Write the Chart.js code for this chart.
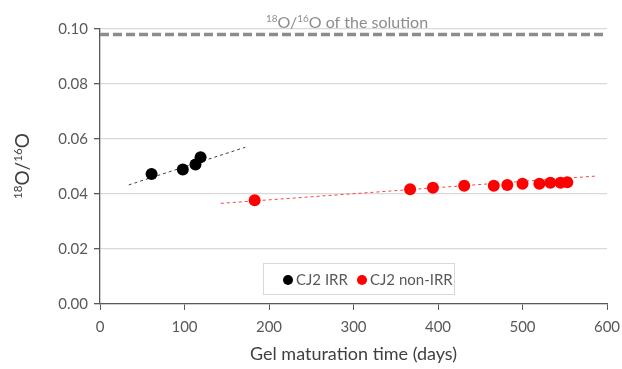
<!DOCTYPE html>
<html>
<head>
<meta charset="utf-8">
<script src="https://cdn.jsdelivr.net/npm/chart.js@4/dist/chart.umd.min.js"></script>
<style>
  html, body { margin: 0; padding: 0; background: #fff; }
  #wrap { width: 622px; height: 369px; }
</style>
</head>
<body>
<div id="wrap"><canvas id="isoChart" width="622" height="369"></canvas></div>
<script>
// datos
const irrDays = [61, 98, 113, 119];
const irrRatio = [0.0473, 0.0489, 0.0507, 0.0534];
const nonIrrDays = [183, 367, 394, 431, 466, 482, 500, 520, 533, 545, 553];
const nonIrrRatio = [0.0377, 0.0417, 0.0423, 0.0430, 0.0430, 0.0433, 0.0437, 0.0437, 0.0441, 0.0441, 0.0443];
// lineas de tendencia (extremos)
const irrTrendDays = [34, 172];
const irrTrendRatio = [0.0433, 0.0570];
const nonIrrTrendDays = [143, 586];
const nonIrrTrendRatio = [0.0366, 0.0465];
// relacion de la solucion
const solutionDays = [0, 600];
const solutionRatio = [0.098, 0.098];
const xTicks = [0, 100, 200, 300, 400, 500, 600];
const yTicks = [0, 0.02, 0.04, 0.06, 0.08, 0.10];

const FONT = 'Lato, "Open Sans", sans-serif';
const AXIS = '#595959';

const pts = (xs, ys) => xs.map((x, i) => ({ x: x, y: ys[i] }));

// texto con superindices: partes [texto, esSup]
function drawIso(ctx, parts, x, y, size, color, align) {
  ctx.save();
  ctx.fillStyle = color;
  ctx.textBaseline = 'alphabetic';
  ctx.textAlign = 'left';
  let total = 0;
  parts.forEach(p => {
    ctx.font = (p[1] ? size * 0.62 : size) + 'px ' + FONT;
    total += ctx.measureText(p[0]).width;
  });
  let cx = align === 'center' ? x - total / 2 : x;
  parts.forEach(p => {
    ctx.font = (p[1] ? size * 0.62 : size) + 'px ' + FONT;
    ctx.fillText(p[0], cx, p[1] ? y - size * 0.38 : y);
    cx += ctx.measureText(p[0]).width;
  });
  ctx.restore();
}

const extras = {
  id: 'extras',
  afterDraw(chart) {
    const ctx = chart.ctx;
    // etiqueta de la linea de la solucion
    drawIso(ctx, [['18', true], ['O/', false], ['16', true], ['O of the solution', false]],
      347, 28, 16, '#8c8c8c', 'center');
    // titulo eje y rotado
    ctx.save();
    ctx.translate(29, 166);
    ctx.rotate(-Math.PI / 2);
    drawIso(ctx, [['18', true], ['O/', false], ['16', true], ['O', false]], 0, 0, 19, '#404040', 'center');
    ctx.restore();
    // leyenda
    ctx.save();
    ctx.fillStyle = '#fff';
    ctx.fillRect(263, 263, 192, 32);
    ctx.strokeStyle = '#d9d9d9';
    ctx.lineWidth = 1;
    ctx.strokeRect(263.5, 263.5, 191, 31);
    const items = [
      { label: chart.data.datasets[0].label, color: chart.data.datasets[0].backgroundColor, x: 288 },
      { label: chart.data.datasets[1].label, color: chart.data.datasets[1].backgroundColor, x: 362 }
    ];
    ctx.font = '15px ' + FONT;
    ctx.textBaseline = 'middle';
    items.forEach(it => {
      ctx.fillStyle = it.color;
      ctx.beginPath();
      ctx.arc(it.x, 280, 5, 0, Math.PI * 2);
      ctx.fill();
      ctx.fillStyle = AXIS;
      ctx.fillText(it.label, it.x + 8, 280);
    });
    ctx.restore();
  }
};

const ctx = document.getElementById('isoChart').getContext('2d');
new Chart(ctx, {
  type: 'scatter',
  data: {
    datasets: [
      {
        label: 'CJ2 IRR',
        data: pts(irrDays, irrRatio),
        backgroundColor: '#000000',
        borderWidth: 0,
        pointRadius: 6,
        order: 1
      },
      {
        label: 'CJ2 non-IRR',
        data: pts(nonIrrDays, nonIrrRatio),
        backgroundColor: '#ff0000',
        borderWidth: 0,
        pointRadius: 6,
        order: 1
      },
      {
        label: 'trend IRR',
        data: pts(irrTrendDays, irrTrendRatio),
        showLine: true,
        borderColor: '#404040',
        borderWidth: 1,
        borderDash: [3, 3],
        pointRadius: 0,
        order: 2
      },
      {
        label: 'trend non-IRR',
        data: pts(nonIrrTrendDays, nonIrrTrendRatio),
        showLine: true,
        borderColor: '#ff4040',
        borderWidth: 1,
        borderDash: [3, 3],
        pointRadius: 0,
        order: 2
      },
      {
        label: 'solution',
        data: pts(solutionDays, solutionRatio),
        showLine: true,
        borderColor: '#8c8c8c',
        borderWidth: 3.5,
        borderDash: [9, 4],
        pointRadius: 0,
        order: 3
      }
    ]
  },
  options: {
    responsive: false,
    animation: false,
    layout: { padding: { top: 29, right: 15, left: 0, bottom: 0 } },
    plugins: {
      legend: { display: false },
      tooltip: { enabled: false }
    },
    scales: {
      x: {
        type: 'linear',
        min: 0, max: 600,
        afterBuildTicks: s => { s.ticks = xTicks.map(v => ({ value: v })); },
        afterFit: s => { s.height = 65; s.paddingLeft = 0; s.paddingRight = 0; },
        grid: { drawOnChartArea: false, tickLength: 6, tickColor: AXIS },
        border: { color: AXIS, width: 1.3 },
        ticks: { color: AXIS, font: { family: FONT, size: 15 }, padding: 8 },
        title: { display: true, text: 'Gel maturation time (days)', color: '#404040',
          font: { family: FONT, size: 18 }, padding: { top: 4, bottom: 4 } }
      },
      y: {
        min: 0, max: 0.1,
        afterBuildTicks: s => { s.ticks = yTicks.map(v => ({ value: v })); },
        afterFit: s => { s.width = 100; s.paddingTop = 0; s.paddingBottom = 0; },
        grid: { color: '#d9d9d9', lineWidth: 1.3, tickLength: 6, tickColor: AXIS },
        border: { color: AXIS, width: 1.3 },
        ticks: { color: AXIS, font: { family: FONT, size: 15 }, padding: 6,
          callback: v => v.toFixed(2) }
      }
    }
  },
  plugins: [extras]
});
</script>
</body>
</html>
